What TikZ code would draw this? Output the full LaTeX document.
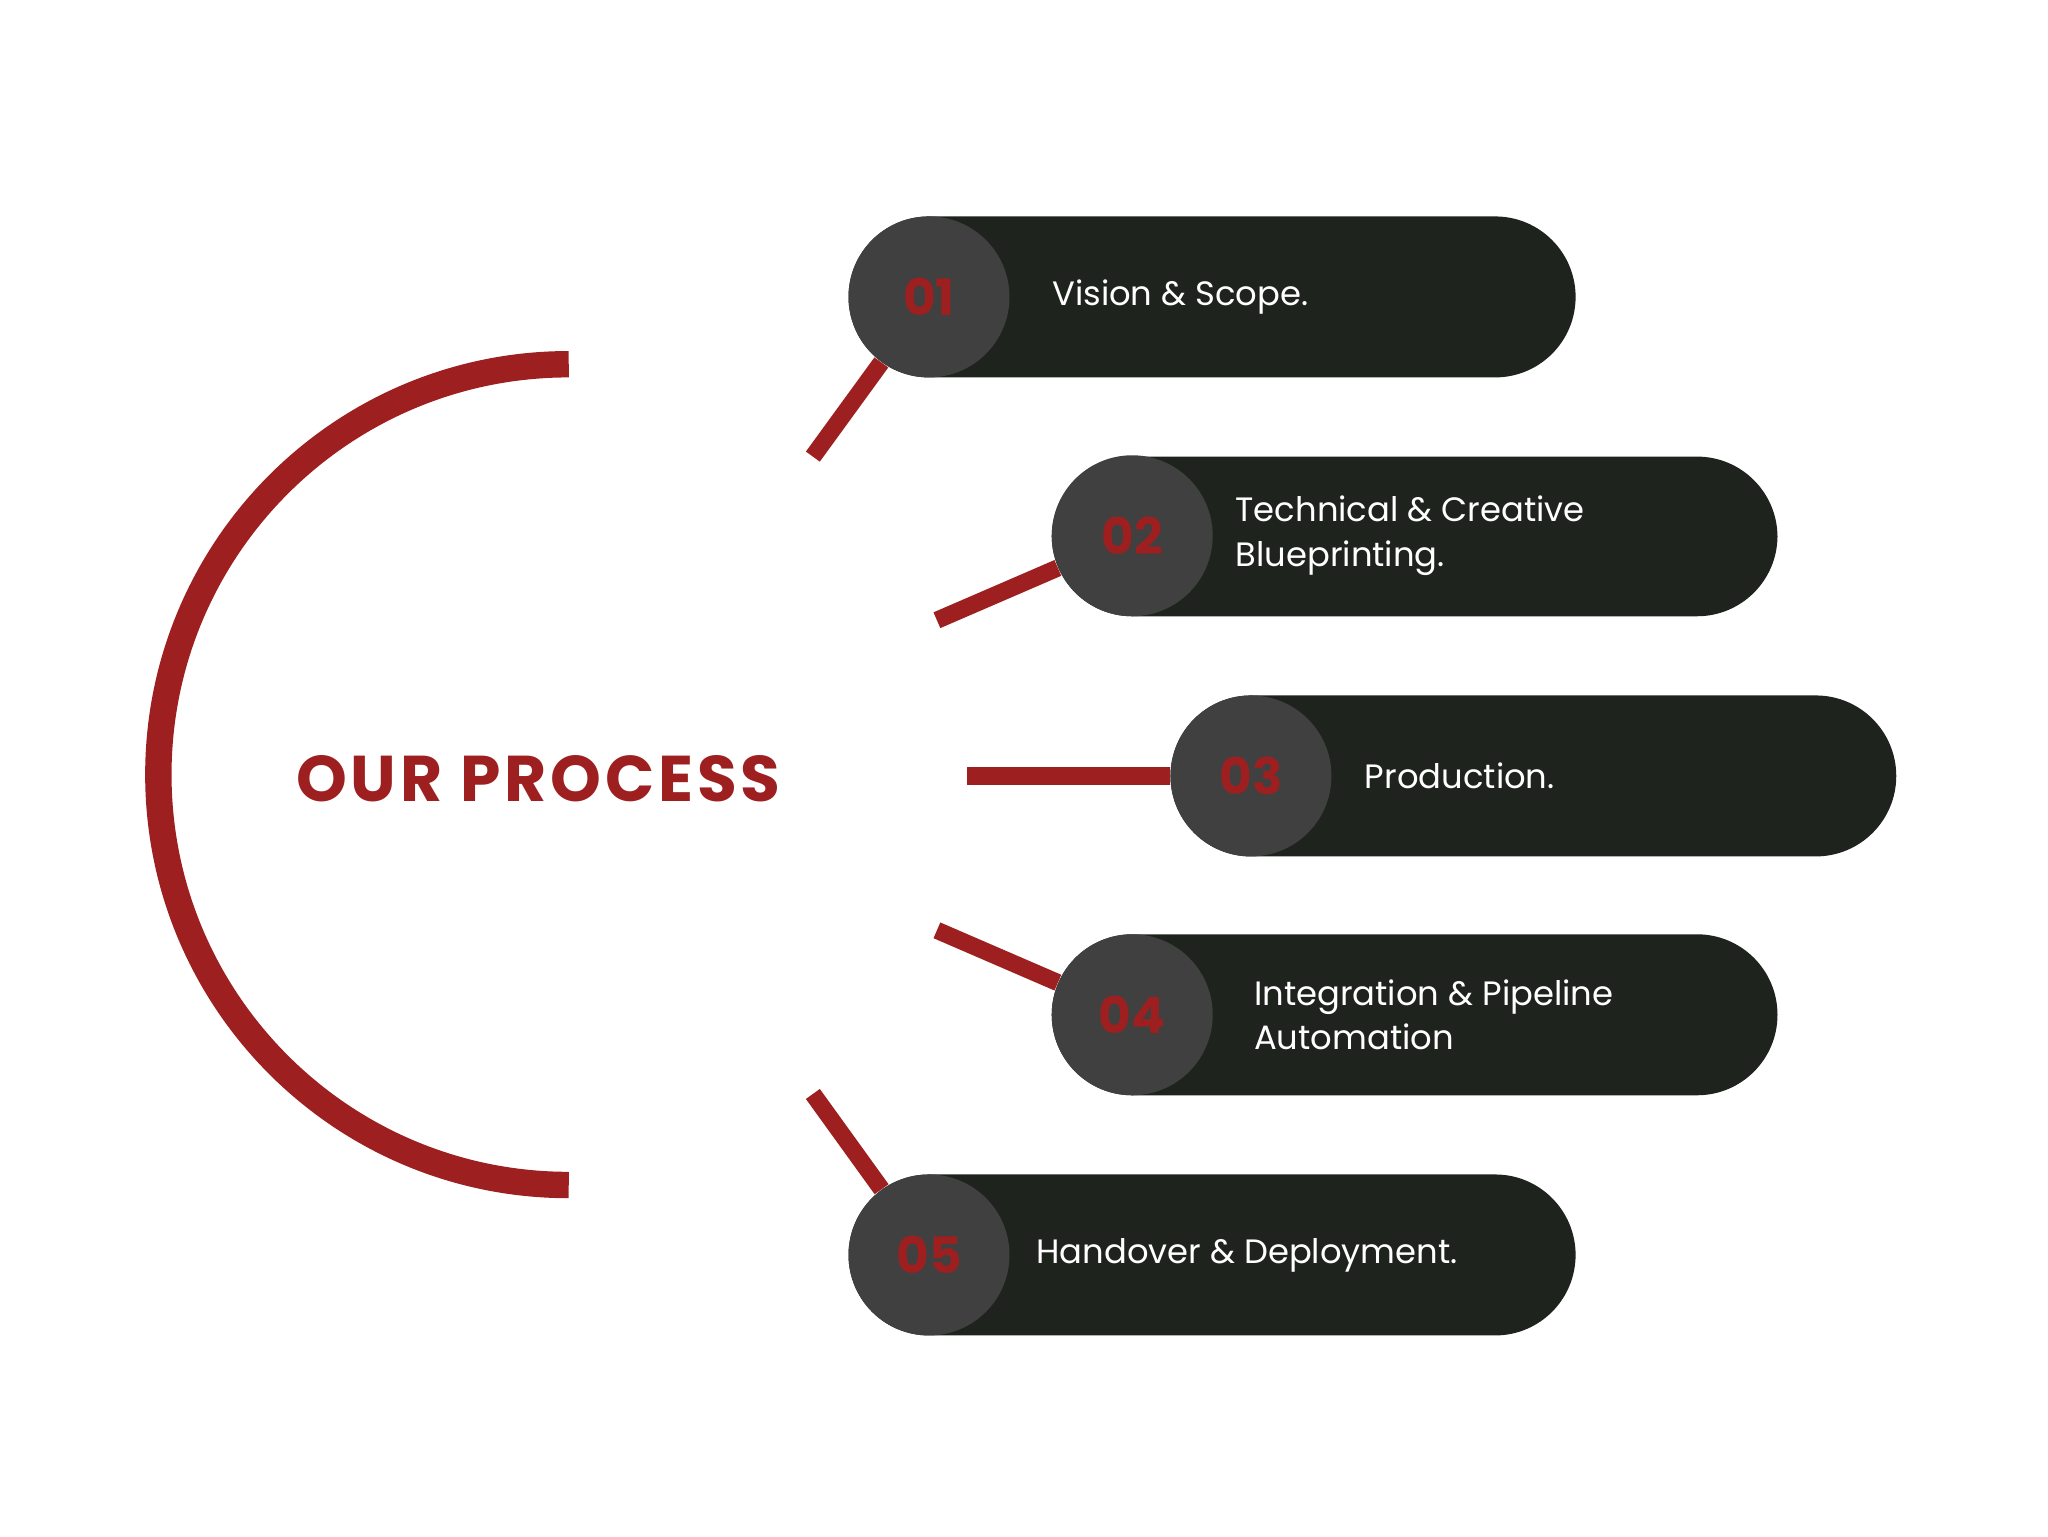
\documentclass[tikz,border=0pt]{standalone}
\usepackage{fontspec}
\setmainfont{Poppins}
\definecolor{accent}{HTML}{9E1F20}
\definecolor{pill}{HTML}{1F231E}
\definecolor{disc}{HTML}{404040}
\begin{document}
\begin{tikzpicture}[x=0.5pt,y=-0.5pt,
  pillbox/.style={fill=pill,rounded corners=30.5pt},
  numdisc/.style={circle,fill=disc,minimum size=61pt,inner sep=0pt,text=accent,font=\fontsize{19}{19}\selectfont\bfseries},
  lbl/.style={anchor=west,text=white,align=left,font=\fontsize{12.8}{17}\selectfont,inner sep=0pt},
  conn/.style={draw=accent,line width=6.5pt}]
\useasboundingbox (0,0) rectangle (1552,1164);
\fill[white] (0,0) rectangle (1552,1164);
\coordinate (arctop) at (431,276);
\draw[accent,line width=10pt] (arctop) arc[start angle=90,end angle=270,radius=155.5pt];
% pills
\fill[pillbox] (643,164) rectangle (1194,286);
\fill[pillbox] (797,346) rectangle (1347,467);
\fill[pillbox] (887,527) rectangle (1437,649);
\fill[pillbox] (797,708) rectangle (1347,830);
\fill[pillbox] (643,890) rectangle (1194,1012);
\node[numdisc] (n1) at (704,225) {01};
\node[numdisc] (n2) at (858,406) {02};
\node[numdisc] (n3) at (948,588) {03};
\node[numdisc] (n4) at (858,769) {04};
\node[numdisc] (n5) at (704,951) {05};
\node[lbl] (l1) at (797,225) {Vision \& Scope.};
\node[lbl] (l2) at (936,406) {Technical \& Creative\\Blueprinting.};
\node[lbl] (l3) at (1034,588) {Production.};
\node[lbl] (l4) at (950,769) {Integration \& Pipeline\\Automation};
\node[lbl] (l5) at (785,951) {Handover \& Deployment.};
\coordinate (c1) at (616,346);
\coordinate (c2) at (710,470);
\coordinate (c3) at (733,588);
\coordinate (c4) at (710,705);
\coordinate (c5) at (616,829);
\draw[conn] (c1) -- (n1);
\draw[conn] (c2) -- (n2);
\draw[conn] (c3) -- (n3);
\draw[conn] (c4) -- (n4);
\draw[conn] (c5) -- (n5);
\node (title) at (408,590) {\fontsize{24.5}{25}\selectfont\bfseries\color{accent}\addfontfeature{LetterSpace=6}OUR PROCESS};
\end{tikzpicture}
\end{document}
